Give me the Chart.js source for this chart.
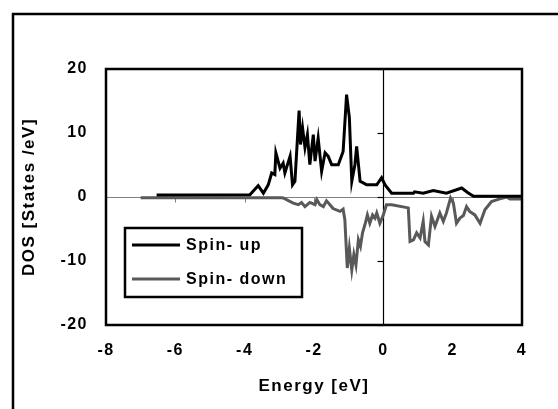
<!DOCTYPE html>
<html>
<head>
<meta charset="utf-8">
<title>DOS</title>
<script src="https://cdn.jsdelivr.net/npm/chart.js@4/dist/chart.umd.min.js"></script>
<style>
  html, body { margin: 0; padding: 0; background: #fff; }
  #wrap { width: 558px; height: 409px; }
</style>
</head>
<body>
<div id="wrap"><canvas id="dosChart" width="558" height="409"></canvas></div>
<script>
// Energy [eV] / DOS [States/eV]
const upEnergy = [-6.54, -3.85, -3.61, -3.46, -3.32, -3.22, -3.13, -3.10, -2.98, -2.89, -2.84, -2.69, -2.62, -2.55,
    -2.43, -2.39, -2.33, -2.26, -2.19, -2.12, -2.02, -1.97, -1.88, -1.78, -1.68, -1.59, -1.49, -1.30, -1.16,
    -1.06, -0.98, -0.91, -0.82, -0.77, -0.67, -0.58, -0.48, -0.19, -0.05, 0.05, 0.24, 0.87, 0.90, 1.15, 1.44,
    1.82, 2.26, 2.43, 2.60, 4.0];
const upDos = [0.3, 0.36, 1.76, 0.6, 1.9, 3.75, 3.5, 6.9, 4.5, 5.3, 3.75, 6.35, 1.9, 2.45,
    13.5, 8.2, 10.8, 7.7, 9.75, 5.05, 9.75, 5.6, 9.2, 4.0, 6.9, 6.35, 5.05, 5.05, 7.1,
    16.0, 12.4, 2.45, 5.05, 7.9, 2.45, 2.2, 1.9, 1.9, 3.0, 1.9, 0.6, 0.6, 0.8, 0.6, 1.0,
    0.6, 1.4, 0.7, 0.1, 0.1];

const downEnergy = [-7.0, -2.93, -2.89, -2.6, -2.45, -2.36, -2.26, -2.12, -1.97, -1.92, -1.83, -1.73, -1.64,
    -1.54, -1.45, -1.25, -1.16, -1.11, -1.04, -0.98, -0.91, -0.85, -0.79, -0.72, -0.66, -0.60, -0.53, -0.46,
    -0.39, -0.31, -0.24, -0.19, -0.10, 0.0, 0.09, 0.24, 0.72, 0.77, 0.87, 0.96, 1.06, 1.15, 1.20, 1.30, 1.39,
    1.49, 1.63, 1.73, 1.82, 1.94, 2.02, 2.11, 2.21, 2.31, 2.40, 2.49, 2.64, 2.79, 2.93, 3.12, 3.36, 3.56,
    3.65, 4.04];
const downDos = [-0.1, -0.1, -0.16, -0.95, -1.2, -0.85, -1.5, -0.85, -1.2, -0.4, -1.2, -1.5, -0.6,
    -1.2, -1.8, -2.25, -1.9, -3.55, -11.1, -8.0, -11.4, -9.0, -10.6, -6.7, -7.7, -5.6, -4.3, -2.8,
    -4.1, -2.8, -3.3, -2.5, -4.1, -2.8, -1.2, -1.2, -1.7, -6.95, -6.7, -5.6, -6.4, -3.8, -6.95, -7.5, -3.0,
    -4.6, -2.5, -3.8, -2.5, -0.16, -0.95, -4.1, -3.3, -2.9, -1.5, -2.25, -2.8, -4.1, -2.0, -0.7, -0.3, 0,
    -0.3, -0.3];

const xTicks = [-8, -6, -4, -2, 0, 2, 4];
const yTicks = [-20, -10, 0, 10, 20];
const seriesNames = ['Spin- up', 'Spin- down'];
const seriesColors = ['#000000', '#595959'];

const FONT = '"Liberation Sans", Arial, sans-serif';

function toPoints(xs, ys) {
    return xs.map((x, i) => ({ x: x, y: ys[i] }));
}

// outer frame, zero axes with their tick marks, plot border and legend box
const excelLook = {
    id: 'excelLook',
    beforeDraw(chart) {
        const ctx = chart.ctx;
        ctx.save();
        ctx.fillStyle = '#fff';
        ctx.fillRect(0, 0, chart.width, chart.height);
        ctx.strokeStyle = '#000';
        ctx.lineWidth = 2.5;
        ctx.beginPath();
        ctx.moveTo(13, chart.height + 2);
        ctx.lineTo(13, 14);
        ctx.lineTo(chart.width + 2, 14);
        ctx.stroke();
        ctx.restore();
        // the Excel text is drawn a bit loose
        if ('letterSpacing' in ctx) ctx.letterSpacing = '1.5px';
    },
    beforeDatasetsDraw(chart) {
        const ctx = chart.ctx;
        const xs = chart.scales.x, ys = chart.scales.y;
        const area = chart.chartArea;
        const x0 = Math.round(xs.getPixelForValue(0)) + 0.5;
        const y0 = Math.round(ys.getPixelForValue(0)) + 0.5;
        ctx.save();
        // horizontal zero line
        ctx.strokeStyle = '#808080';
        ctx.lineWidth = 1;
        ctx.beginPath();
        ctx.moveTo(area.left, y0);
        ctx.lineTo(area.right, y0);
        ctx.stroke();
        xTicks.forEach(v => {
            const px = Math.round(xs.getPixelForValue(v)) + 0.5;
            ctx.beginPath();
            ctx.moveTo(px, y0);
            ctx.lineTo(px, y0 + 5);
            ctx.stroke();
        });
        // vertical zero line
        ctx.strokeStyle = '#000';
        ctx.lineWidth = 1.2;
        ctx.beginPath();
        ctx.moveTo(x0, area.top);
        ctx.lineTo(x0, area.bottom);
        ctx.stroke();
        yTicks.forEach(v => {
            const py = Math.round(ys.getPixelForValue(v)) + 0.5;
            ctx.beginPath();
            ctx.moveTo(x0 - 6, py);
            ctx.lineTo(x0, py);
            ctx.stroke();
        });
        ctx.restore();
    },
    afterDatasetsDraw(chart) {
        const ctx = chart.ctx;
        const area = chart.chartArea;
        ctx.save();
        ctx.strokeStyle = '#000';
        ctx.lineWidth = 2.5;
        ctx.strokeRect(area.left, area.top, area.right - area.left, area.bottom - area.top);

        // legend
        ctx.lineWidth = 2.5;
        ctx.strokeRect(125, 228, 177, 69);
        ctx.font = 'bold 16px ' + FONT;
        ctx.textBaseline = 'middle';
        ctx.fillStyle = '#000';
        const rows = [245, 279];
        seriesNames.forEach((name, i) => {
            ctx.strokeStyle = seriesColors[i];
            ctx.lineWidth = 3;
            ctx.beginPath();
            ctx.moveTo(132, rows[i]);
            ctx.lineTo(180, rows[i]);
            ctx.stroke();
            ctx.fillText(name, 186, rows[i] + 1);
        });
        ctx.restore();
    }
};

const ctx = document.getElementById('dosChart');

new Chart(ctx, {
    type: 'scatter',
    data: {
        datasets: [
            {
                label: seriesNames[0],
                data: toPoints(upEnergy, upDos),
                showLine: true,
                borderColor: seriesColors[0],
                borderWidth: 3,
                pointRadius: 0,
                tension: 0,
                order: 1
            },
            {
                label: seriesNames[1],
                data: toPoints(downEnergy, downDos),
                showLine: true,
                borderColor: seriesColors[1],
                borderWidth: 3,
                pointRadius: 0,
                tension: 0,
                order: 2
            }
        ]
    },
    options: {
        responsive: false,
        animation: false,
        devicePixelRatio: 1,
        layout: { padding: { left: 0, top: 69, right: 36, bottom: 0 } },
        plugins: {
            legend: { display: false },
            tooltip: { enabled: false }
        },
        scales: {
            x: {
                type: 'linear',
                min: -8,
                max: 4,
                afterBuildTicks: scale => { scale.ticks = xTicks.map(v => ({ value: v })); },
                afterFit: scale => { scale.height = 84; },
                border: { display: false },
                grid: { display: false, drawTicks: false },
                ticks: {
                    padding: 16,
                    color: '#000',
                    font: { family: FONT, size: 16, weight: 'bold' }
                },
                title: {
                    display: true,
                    text: 'Energy [eV]',
                    color: '#000',
                    padding: { top: 0, bottom: 12 },
                    font: { family: FONT, size: 17, weight: 'bold' }
                }
            },
            y: {
                type: 'linear',
                min: -20,
                max: 20,
                afterBuildTicks: scale => { scale.ticks = yTicks.map(v => ({ value: v })); },
                afterFit: scale => { scale.width = 106; },
                border: { display: false },
                grid: { display: false, drawTicks: false },
                ticks: {
                    padding: 18,
                    color: '#000',
                    font: { family: FONT, size: 16, weight: 'bold' }
                },
                title: {
                    display: true,
                    text: 'DOS [States /eV]',
                    color: '#000',
                    padding: { top: 19, bottom: 0 },
                    font: { family: FONT, size: 17, weight: 'bold' }
                }
            }
        }
    },
    plugins: [excelLook]
});
</script>
</body>
</html>
